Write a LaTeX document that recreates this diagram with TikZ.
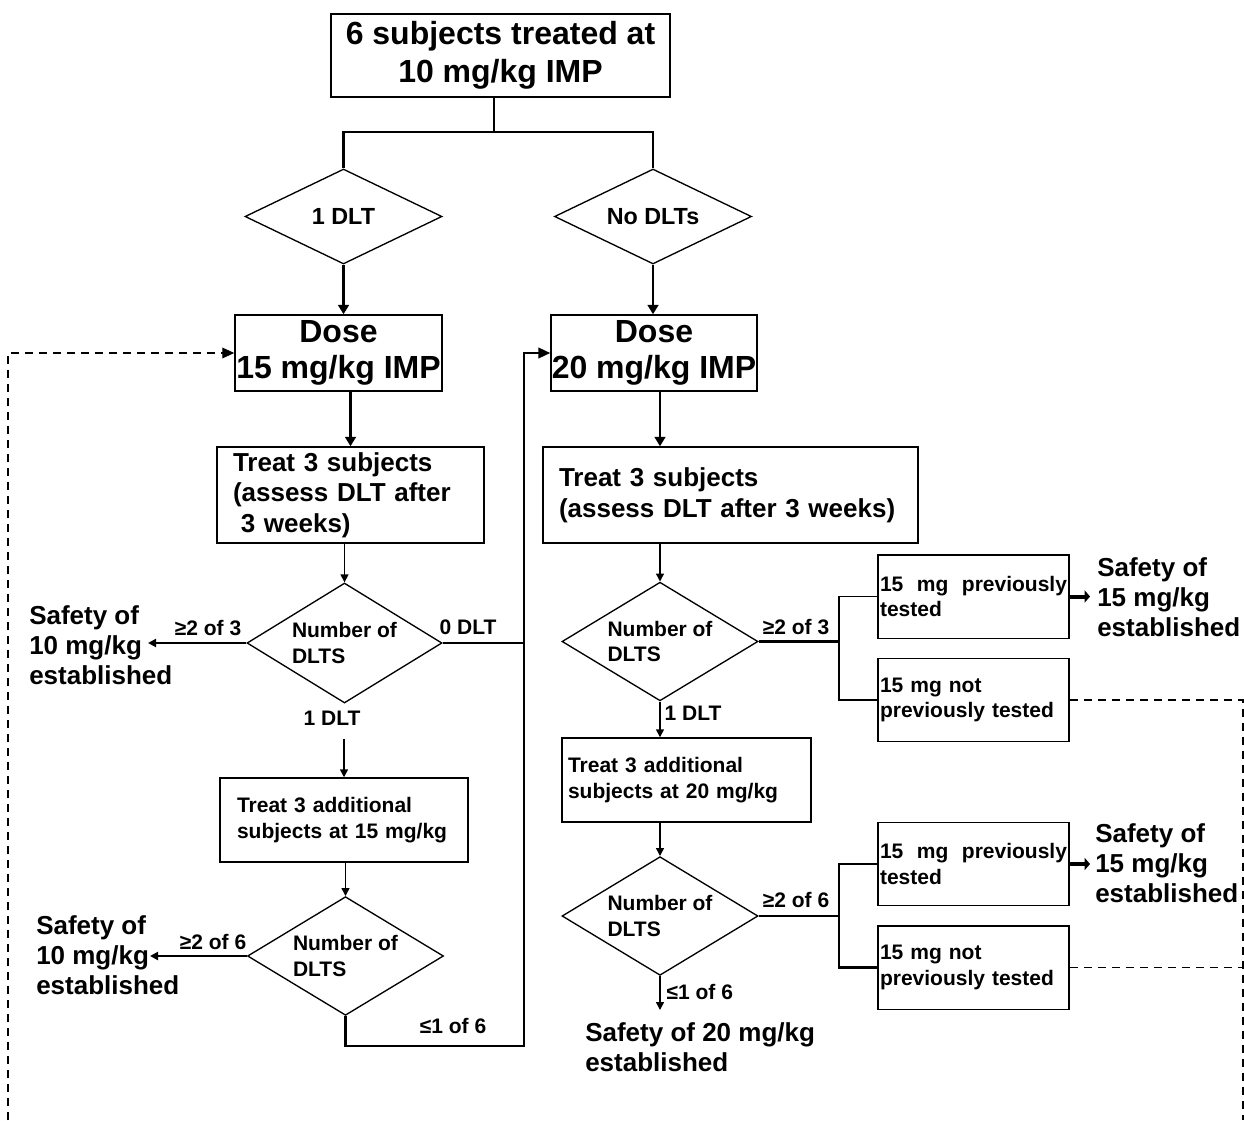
\documentclass[tikz,border=0pt]{standalone}
\usepackage{fontspec}
\setmainfont{Liberation Sans}
\usetikzlibrary{shapes.geometric,arrows.meta}
\tikzset{
	box/.style={draw,line width=1.1pt,inner sep=0pt},
	dia/.style={draw,diamond,line width=1pt,inner sep=0pt,minimum width=147pt,minimum height=89pt},
	bigfont/.style={font=\fontsize{24}{28.5}\selectfont\bfseries},
	dosefont/.style={font=\fontsize{24}{26.5}\selectfont\bfseries},
	midfont/.style={font=\fontsize{19.5}{22.5}\selectfont\bfseries},
	treatfont/.style={font=\fontsize{19.5}{23}\selectfont\bfseries},
	smallfont/.style={font=\fontsize{15.75}{19}\selectfont\bfseries},
	dlabel/.style={smallfont,align=left},
	toplabel/.style={font=\fontsize{17.5}{20}\selectfont\bfseries},
	elabel/.style={smallfont,inner sep=1pt},
	outc/.style={midfont,anchor=west,align=left,inner xsep=1.5pt,inner ysep=0pt},
	tinybox/.style={box,smallfont,align=left,text width=140.25pt,inner xsep=1.5pt,minimum height=62.6pt},
	arr/.style={line width=1.1pt,-{Triangle[length=6pt,width=6pt]}},
	bigarr/.style={line width=2.2pt,-{Triangle[length=7pt,width=8pt]}},
	fatarr/.style={line width=3pt,-{Triangle[length=4pt,width=9pt]}},
	dasharr/.style={line width=1pt,dash pattern=on 6pt off 4.5pt,-{Triangle[length=9pt,width=8pt]}},
	dashline/.style={line width=1pt,dash pattern=on 6pt off 4.5pt}
}
\begin{document}
\begin{tikzpicture}[x=0.75pt,y=-0.75pt]
	\useasboundingbox (0,0) rectangle (1244,1120);
	% 方框
	\node[box,bigfont,align=center,minimum width=254.25pt,minimum height=62.25pt] (top) at (500.5,55.5) {6 subjects treated at\\10 mg/kg IMP};
	\node[dia,minimum width=147.75pt,minimum height=71.25pt,label={[toplabel]center:1 DLT}] (d1) at (343.5,216.5) {};
	\node[dia,minimum width=147.75pt,minimum height=71.25pt,label={[toplabel]center:No DLTs}] (d2) at (653,216.5) {};
	\node[box,dosefont,align=center,minimum width=155.25pt,minimum height=57pt] (dose1) at (338.5,353) {Dose\\15 mg/kg IMP};
	\node[box,dosefont,align=center,minimum width=154.5pt,minimum height=57pt] (dose2) at (654,353) {Dose\\20 mg/kg IMP};
	\node[box,treatfont,align=left,text width=176.25pt,inner xsep=12pt,minimum height=72pt] (treat1) at (350.5,495) {Treat 3 subjects\\(assess DLT after\\\hspace*{0.3em}3 weeks)};
	\node[box,treatfont,align=left,text width=257.25pt,inner xsep=12pt,minimum height=72pt] (treat2) at (730.5,495) {Treat 3 subjects\\(assess DLT after 3 weeks)};
	\node[dia,minimum width=146.25pt,minimum height=90pt,label={[dlabel]center:Number of\\DLTS}] (n1) at (344.5,643) {};
	\node[dia,label={[dlabel]center:Number of\\DLTS}] (n2) at (660,641.5) {};
	\node[box,smallfont,align=left,text width=160.5pt,inner xsep=12.75pt,minimum height=63pt] (add1) at (344,820) {Treat 3 additional\\subjects at 15 mg/kg};
	\node[box,smallfont,align=left,text width=177.75pt,inner xsep=4.5pt,minimum height=63pt] (add2) at (686.5,780) {Treat 3 additional\\subjects at 20 mg/kg};
	\node[dia,label={[dlabel]center:Number of\\DLTS}] (n3) at (345.5,956) {};
	\node[dia,label={[dlabel]center:Number of\\DLTS}] (n4) at (660,916) {};
	\node[tinybox] (prevA) at (973.5,596.5) {15\hfill mg\hfill previously\\tested};
	\node[tinybox] (notB) at (973.5,700) {15 mg not\\previously tested};
	\node[tinybox] (prevC) at (973.5,864) {15\hfill mg\hfill previously\\tested};
	\node[tinybox] (notD) at (973.5,967.5) {15 mg not\\previously tested};
	% 结果
	\node[outc] (s10a) at (27,645) {Safety of\\10 mg/kg\\established};
	\node[outc] (s10b) at (34,955) {Safety of\\10 mg/kg\\established};
	\node[outc] (s15a) at (1095,597) {Safety of\\15 mg/kg\\established};
	\node[outc] (s15b) at (1093,863) {Safety of\\15 mg/kg\\established};
	\node[outc] (s20) at (583,1047) {Safety of 20 mg/kg\\established};
	% 标签
	\node[elabel] (l23a) at (208,628) {≥2 of 3};
	\node[elabel] (l0) at (468,627) {0 DLT};
	\node[elabel] (l1a) at (332,718) {1 DLT};
	\node[elabel] (l26a) at (213,942) {≥2 of 6};
	\node[elabel] (l16a) at (453,1026) {≤1 of 6};
	\node[elabel] (l23b) at (796,627) {≥2 of 3};
	\node[elabel,anchor=west] (l1b) at (663,713) {1 DLT};
	\node[elabel] (l26b) at (796,900) {≥2 of 6};
	\node[elabel,anchor=west] (l16b) at (665,992) {≤1 of 6};
	\coordinate (split) at (494,132);
	\coordinate (loop) at (524,1046);
	\coordinate (br1) at (839,641.5);
	\coordinate (br2) at (839,916);
	\coordinate (lcorner) at (8,1120);
	\coordinate (rcorner) at (1243,1120);
	\coordinate (e10a) at (148,643);
	\coordinate (e10b) at (150,956);
	\coordinate (e15a) at (1090,596.5);
	\coordinate (e15b) at (1090,864);
	\coordinate (e20) at (660,1010);
	% 连线
	\draw[line width=1pt] (top.south -| split) -- (split);
	\draw[line width=1.8pt] (d1.north) |- (split) -| (d2.north);
	\draw[bigarr] (d1.south) -- (d1.south |- dose1.north);
	\draw[bigarr] (d2.south) -- (d2.south |- dose2.north);
	\draw[bigarr,line width=1.6pt] (treat1.north |- dose1.south) -- (treat1.north);
	\draw[bigarr,line width=1.6pt] (n2.north |- dose2.south) -- (n2.north |- treat2.north);
	\draw[arr] (n1.north |- treat1.south) -- (n1.north);
	\draw[arr] (n2.north |- treat2.south) -- (n2.north);
	\draw[arr,line width=1.6pt] (n1.west) -- (e10a);
	\draw[line width=1.6pt] (n1.east) -- (n1.east -| loop);
	\draw[arr] (l1a.south -| add1.north) [shorten <=9pt] -- (add1.north);
	\draw[arr] (n3.north |- add1.south) -- (n3.north);
	\draw[arr,line width=1.6pt] (n3.west) -- (e10b);
	\draw[line width=1.6pt,-{Triangle[length=9pt,width=8pt]}] (n3.south) |- (loop) |- (dose2.west);
	\draw[dasharr] (lcorner) |- (dose1.west); %虚线
	\draw[line width=1.6pt] (n2.east) -- (br1);
	\draw[line width=1.1pt] (prevA.west) -| (br1) |- (notB.west);
	\draw[fatarr] (prevA.east) -- (e15a);
	\draw[dashline] (notB.east) -| (rcorner);
	\draw[arr] (n2.south) -- (n2.south |- add2.north);
	\draw[arr] (n4.north |- add2.south) -- (n4.north);
	\draw[line width=1.1pt] (n4.east) -- (br2);
	\draw[line width=1.6pt] (prevC.west) -| (br2) |- (notD.west);
	\draw[fatarr] (prevC.east) -- (e15b);
	\draw[dashline] (notD.east) -- (notD.east -| rcorner);
	\draw[arr] (n4.south) -- (e20);
\end{tikzpicture}
\end{document}
